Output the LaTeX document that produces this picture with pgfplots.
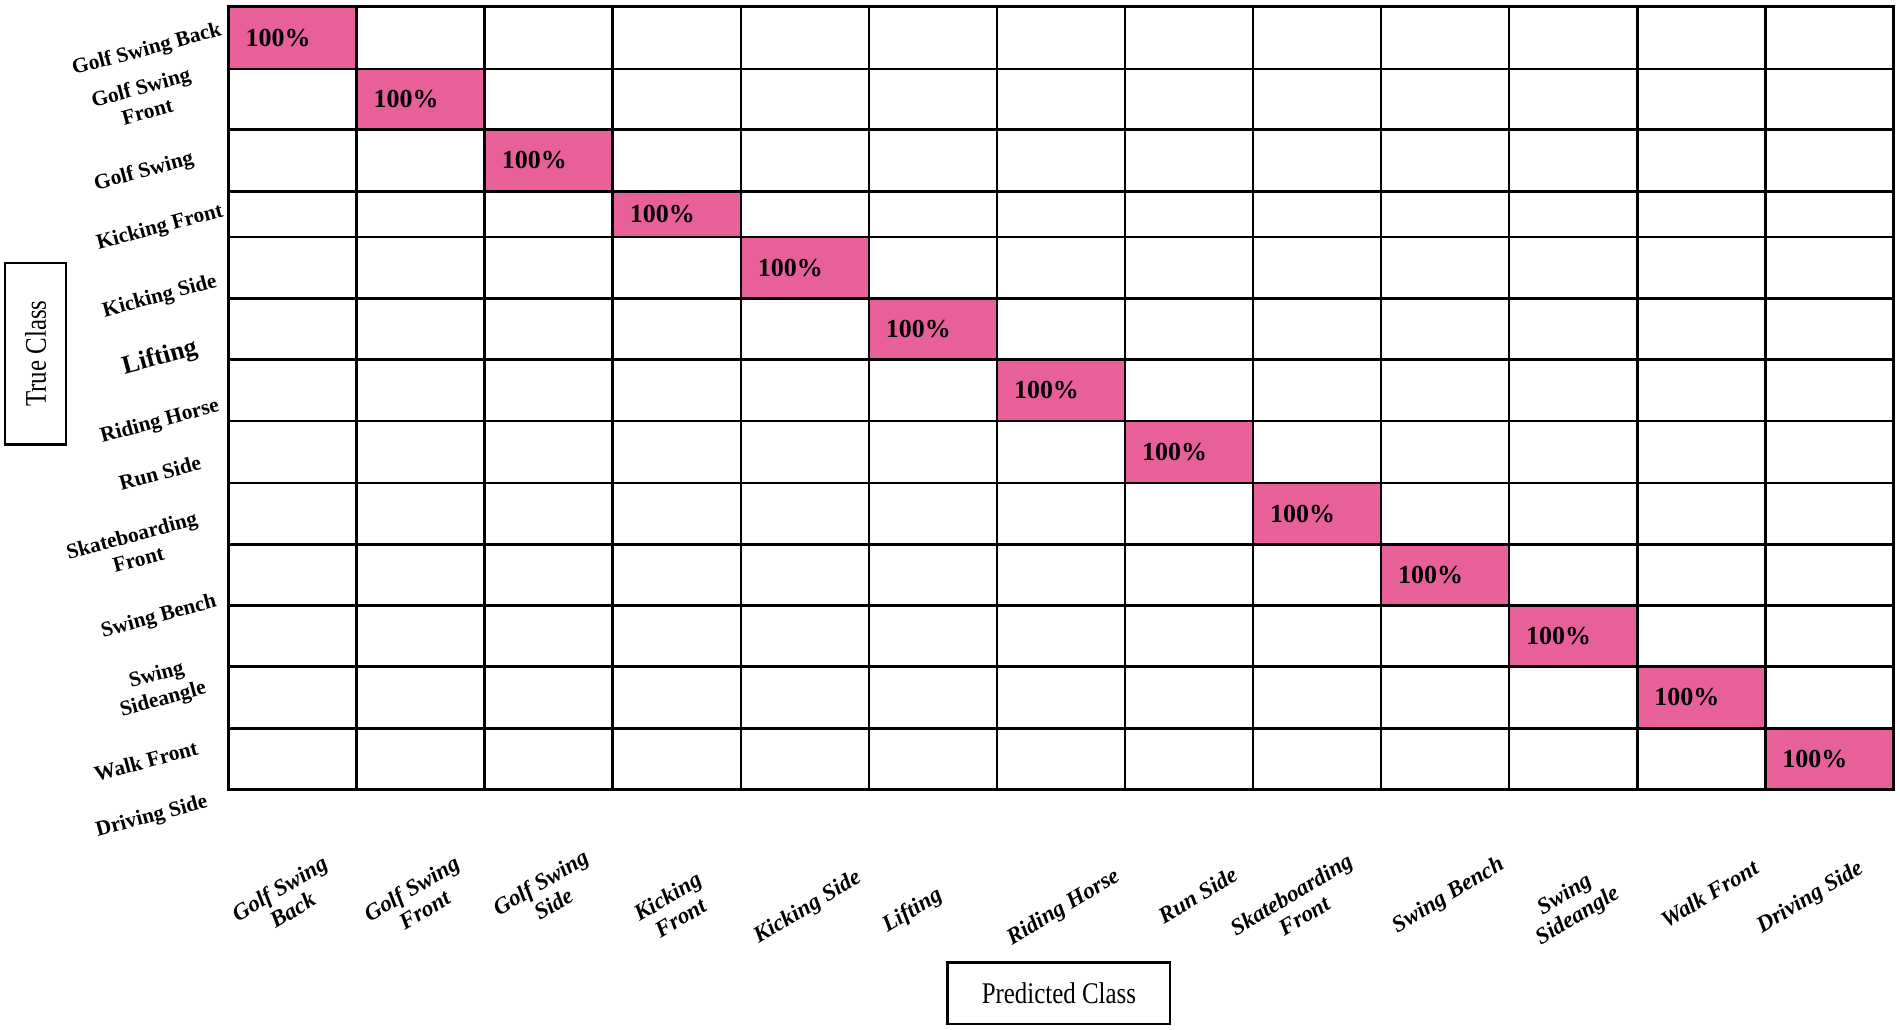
\documentclass[border=0pt]{standalone}
\usepackage{fontspec}
\setmainfont{Liberation Serif}
\usepackage{pgfplots}
\pgfplotsset{compat=1.18}
\usepackage{graphicx}
\definecolor{cellpink}{RGB}{232,96,154}
\begin{document}
\begin{tikzpicture}
\path (0,0) rectangle (950pt,-514.5pt);
\begin{axis}[
  at={(114.35pt,-2.75pt)}, anchor=north west,
  scale only axis, width=832.65pt, height=391.6pt,
  xmin=0, xmax=13, ymin=0, ymax=783.2, y dir=reverse,
  xtick={0,1,2,3,4,5,6,7,8,9,10,11,12,13},
  ytick={0,62.5,122.8,184.8,230.5,292.2,352.8,414.5,476.5,537.8,599.2,660.2,721.8,783.2},
  xticklabels={}, yticklabels={},
  major tick length=0pt,
  grid=major, grid style={black, line width=1.3pt},
  axis line style={black, line width=1.3pt},
  axis on top, clip=false,
]
\addplot[fill=cellpink, draw=none] coordinates {(0,0) (1,0) (1,62.5) (0,62.5)} -- cycle;
\addplot[fill=cellpink, draw=none] coordinates {(1,62.5) (2,62.5) (2,122.8) (1,122.8)} -- cycle;
\addplot[fill=cellpink, draw=none] coordinates {(2,122.8) (3,122.8) (3,184.8) (2,184.8)} -- cycle;
\addplot[fill=cellpink, draw=none] coordinates {(3,184.8) (4,184.8) (4,230.5) (3,230.5)} -- cycle;
\addplot[fill=cellpink, draw=none] coordinates {(4,230.5) (5,230.5) (5,292.2) (4,292.2)} -- cycle;
\addplot[fill=cellpink, draw=none] coordinates {(5,292.2) (6,292.2) (6,352.8) (5,352.8)} -- cycle;
\addplot[fill=cellpink, draw=none] coordinates {(6,352.8) (7,352.8) (7,414.5) (6,414.5)} -- cycle;
\addplot[fill=cellpink, draw=none] coordinates {(7,414.5) (8,414.5) (8,476.5) (7,476.5)} -- cycle;
\addplot[fill=cellpink, draw=none] coordinates {(8,476.5) (9,476.5) (9,537.8) (8,537.8)} -- cycle;
\addplot[fill=cellpink, draw=none] coordinates {(9,537.8) (10,537.8) (10,599.2) (9,599.2)} -- cycle;
\addplot[fill=cellpink, draw=none] coordinates {(10,599.2) (11,599.2) (11,660.2) (10,660.2)} -- cycle;
\addplot[fill=cellpink, draw=none] coordinates {(11,660.2) (12,660.2) (12,721.8) (11,721.8)} -- cycle;
\addplot[fill=cellpink, draw=none] coordinates {(12,721.8) (13,721.8) (13,783.2) (12,783.2)} -- cycle;
\addplot[draw=none, mark=none, nodes near coords={100\%},
  nodes near coords style={anchor=west, inner sep=0pt, black,
  font=\fontsize{13}{15}\selectfont\bfseries}]
  coordinates {(0.13,31.25) (1.13,92.65) (2.13,153.8) (3.13,207.65) (4.13,261.35)
   (5.13,322.5) (6.13,383.65) (7.13,445.5) (8.13,507.15) (9.13,568.5)
   (10.13,629.7) (11.13,691) (12.13,752.5)};
\end{axis}
\begin{scope}[x=0.5pt, y=-0.5pt]
% y labels
\begin{scope}[every node/.style={rotate=15, align=center, inner sep=0pt,
   font=\fontsize{10.7}{12.5}\selectfont\bfseries}]
\node at (147,49) {Golf Swing Back};
\node at (144,98) {Golf Swing\\Front};
\node at (144,171) {Golf Swing};
\node at (160,227) {Kicking Front};
\node at (160,296) {Kicking Side};
\node[font=\fontsize{13}{15}\selectfont\bfseries] at (160,357) {Lifting};
\node at (160,421) {Riding Horse};
\node at (160,472) {Run Side};
\node at (135,546) {Skateboarding\\Front};
\node at (159,616) {Swing Bench};
\node at (160,687) {Swing\\Sideangle};
\node at (146,760) {Walk Front};
\node at (152,816) {Driving Side};
\end{scope}
% x labels
\begin{scope}[every node/.style={rotate=31, align=center, inner sep=0pt,
   font=\fontsize{11.5}{12.5}\selectfont\bfseries\itshape}]
\node at (286,898) {Golf Swing\\Back};
\node at (418,898) {Golf Swing\\Front};
\node at (547,892) {Golf Swing\\Side};
\node at (674,906) {Kicking\\Front};
\node at (808,907) {Kicking Side};
\node at (913,910) {Lifting};
\node at (1064,907) {Riding Horse};
\node at (1198,894) {Run Side};
\node at (1298,904) {Skateboarding\\Front};
\node at (1449,895) {Swing Bench};
\node at (1572,905) {Swing\\Sideangle};
\node at (1710,893) {Walk Front};
\node at (1811,897) {Driving Side};
\end{scope}
% boxed axis titles
\node[draw, line width=1.2pt, rotate=90, minimum width=90.8pt, minimum height=30.35pt, inner sep=0pt]
  at (35.65,352.5) {\scalebox{0.83}[1]{\fontsize{15}{18}\selectfont True Class}};
\node[draw, line width=1.2pt, minimum width=111.25pt, minimum height=30.65pt, inner sep=0pt]
  at (1059.25,992.35) {\scalebox{0.83}[1]{\fontsize{15}{18}\selectfont Predicted Class}};
\end{scope}
\end{tikzpicture}
\end{document}
